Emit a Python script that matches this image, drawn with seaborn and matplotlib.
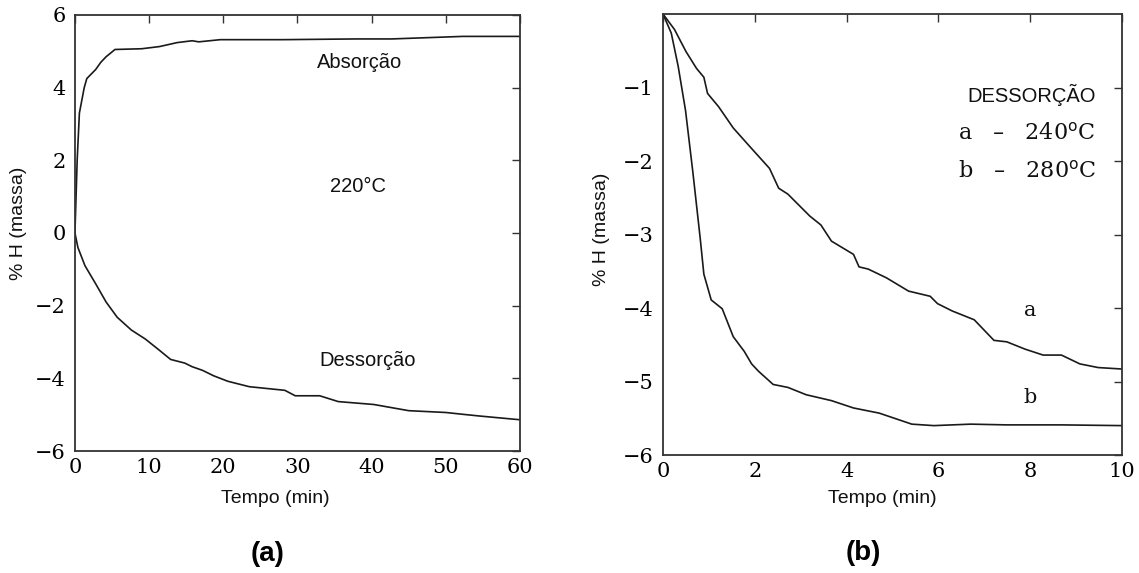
import matplotlib.pyplot as plt
import pandas as pd
import seaborn as sns

# Panel (a) - 220 C, absorption and desorption
abs_t = [0, 0.3, 0.6, 1.25, 1.6, 2.8, 3.5, 4.2, 5.4, 9.0, 11.4, 13.8, 15.8, 16.7,
         19.6, 28.0, 37.9, 42.7, 52.3, 60.0]
abs_h = [0, 2.0, 3.3, 4.0, 4.25, 4.5, 4.7, 4.85, 5.05, 5.07, 5.13, 5.24, 5.29, 5.26,
         5.32, 5.32, 5.34, 5.34, 5.41, 5.41]

des_t = [0, 0.4, 1.35, 2.8, 4.2, 5.7, 7.6, 9.5, 11.4, 12.9, 14.8, 15.8, 17.2, 18.7,
         20.6, 23.5, 28.3, 29.7, 33.0, 35.5, 40.3, 45.0, 50.0, 52.3, 54.7, 60.0]
des_h = [0, -0.4, -0.9, -1.4, -1.9, -2.32, -2.67, -2.92, -3.23, -3.48, -3.58, -3.68,
         -3.78, -3.93, -4.08, -4.23, -4.33, -4.48, -4.48, -4.64, -4.72, -4.89, -4.94,
         -4.99, -5.04, -5.14]

# Panel (b) - desorption at 240 C (a) and 280 C (b)
a_t = [0, 0.25, 0.5, 0.73, 0.89, 0.97, 1.21, 1.53, 1.93, 2.32, 2.52, 2.72, 3.2, 3.44,
       3.67, 4.15, 4.27, 4.47, 4.87, 5.35, 5.82, 5.98, 6.3, 6.78, 7.21, 7.49, 7.89,
       8.28, 8.68, 9.08, 9.48, 10.0]
a_h = [0, -0.21, -0.51, -0.74, -0.86, -1.08, -1.26, -1.55, -1.83, -2.1, -2.37, -2.45,
       -2.75, -2.87, -3.09, -3.27, -3.44, -3.47, -3.59, -3.77, -3.84, -3.94, -4.04,
       -4.16, -4.44, -4.46, -4.56, -4.64, -4.64, -4.76, -4.81, -4.83]

b_t = [0, 0.18, 0.33, 0.49, 0.65, 0.81, 0.89, 1.05, 1.29, 1.53, 1.77, 1.93, 2.08, 2.4,
       2.72, 3.12, 3.67, 4.15, 4.71, 5.42, 5.9, 6.7, 7.49, 8.68, 10.0]
b_h = [0, -0.26, -0.71, -1.31, -2.15, -3.05, -3.54, -3.89, -4.01, -4.39, -4.59, -4.76,
       -4.86, -5.04, -5.08, -5.18, -5.26, -5.36, -5.43, -5.58, -5.6, -5.58, -5.59,
       -5.59, -5.6]

sns.set_style("white")
plt.rcParams['font.family'] = ['Liberation Sans', 'DejaVu Sans']
plt.rcParams['text.color'] = '#111111'
plt.rcParams['axes.labelcolor'] = '#111111'

serif = 'DejaVu Serif'
line_color = '#1a1a1a'
label_size = 14
note_size = 14.5

fig = plt.figure(figsize=(11.39, 5.73), dpi=100)
ax1 = fig.add_axes([0.0658, 0.2129, 0.3907, 0.761])
ax2 = fig.add_axes([0.5821, 0.2059, 0.403, 0.7696])


def style_axes(ax, xlab_pos, ylab_pos):
    for s in ax.spines.values():
        s.set_color('#333333')
        s.set_linewidth(1.3)
    ax.tick_params(direction='in', length=6, width=1, colors='#333333',
                   top=True, right=True)
    ax.tick_params(axis='y', pad=6.5)
    ax.tick_params(axis='x', pad=5)
    for lab in ax.get_xticklabels() + ax.get_yticklabels():
        lab.set_fontfamily(serif)
        lab.set_fontsize(15)
        lab.set_color('black')
    ax.set_xlabel('Tempo (min)', fontsize=label_size)
    ax.set_ylabel('% H (massa)', fontsize=label_size)
    ax.xaxis.set_label_coords(*xlab_pos)
    ax.yaxis.set_label_coords(*ylab_pos)
    ax.xaxis.label.set_va('center')
    ax.yaxis.label.set_va('center')


# (a)
df_abs = pd.DataFrame({'t': abs_t, 'h': abs_h})
df_des = pd.DataFrame({'t': des_t, 'h': des_h})
sns.lineplot(data=df_abs, x='t', y='h', ax=ax1, color=line_color, lw=1.2)
sns.lineplot(data=df_des, x='t', y='h', ax=ax1, color=line_color, lw=1.2)
ax1.set_xlim(0, 60)
ax1.set_ylim(-6, 6)
ax1.set_xticks([0, 10, 20, 30, 40, 50, 60])
ax1.set_yticks([-6, -4, -2, 0, 2, 4, 6])
ax1.set_yticklabels(['\u22126', '\u22124', '\u22122', '0', '2', '4', '6'])
style_axes(ax1, (0.45, -0.11), (-0.127, 0.523))
ax1.text(38.4, 4.68, 'Absorção', fontsize=note_size, ha='center', va='center')
ax1.text(38.2, 1.27, '220°C', fontsize=note_size, ha='center', va='center')
ax1.text(39.4, -3.5, 'Dessorção', fontsize=note_size, ha='center', va='center')

# (b)
df_a = pd.DataFrame({'t': a_t, 'h': a_h})
df_b = pd.DataFrame({'t': b_t, 'h': b_h})
sns.lineplot(data=df_a, x='t', y='h', ax=ax2, color=line_color, lw=1.2)
sns.lineplot(data=df_b, x='t', y='h', ax=ax2, color=line_color, lw=1.2)
ax2.set_xlim(0, 10)
ax2.set_ylim(-6, 0)
ax2.set_xticks([0, 2, 4, 6, 8, 10])
ax2.set_yticks([-6, -5, -4, -3, -2, -1])
ax2.set_yticklabels(['\u22126', '\u22125', '\u22124', '\u22123', '\u22122', '\u22121'])
style_axes(ax2, (0.477, -0.0975), (-0.135, 0.512))
ax2.text(8.03, -1.10, 'DESSORÇÃO', fontsize=note_size, ha='center', va='center')
ax2.text(6.43, -1.62, 'a   \u2013   240$^{\\rm o}$C', fontsize=16, ha='left', va='center',
         family=serif)
ax2.text(6.43, -2.15, 'b   \u2013   280$^{\\rm o}$C', fontsize=16, ha='left', va='center',
         family=serif)
ax2.text(8.0, -4.03, 'a', fontsize=15, ha='center', va='center', family=serif)
ax2.text(8.0, -5.22, 'b', fontsize=15, ha='center', va='center', family=serif)

fig.text(268 / 1139, 1 - 554 / 573, '(a)', fontsize=20, fontweight='bold',
         ha='center', va='center', color='black')
fig.text(863 / 1139, 1 - 553 / 573, '(b)', fontsize=20, fontweight='bold',
         ha='center', va='center', color='black')

for ax in (ax1, ax2):
    ax.grid(False)

fig.savefig('out.png', dpi=100)
plt.close(fig)
